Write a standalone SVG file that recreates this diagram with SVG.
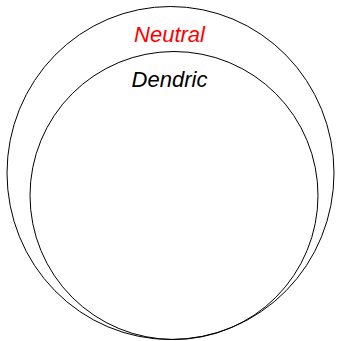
<svg xmlns="http://www.w3.org/2000/svg" width="340" height="341" viewBox="0 0 340 341">
<style>
.c{fill:none;stroke:#000;stroke-width:1}
.t{font-family:"Liberation Sans",Arial,sans-serif;font-style:italic;font-size:22px;text-anchor:middle}
</style>
<rect width="340" height="341" fill="#fff"/>
<g id="neutral">
<ellipse class="c" cx="170.5" cy="173" rx="163.5" ry="166.5"/>
<text class="t" x="169.5" y="41.5" fill="#ff0000">Neutral</text>
</g>
<g id="dendric">
<circle class="c" cx="174" cy="195.5" r="144"/>
<text class="t" x="169.5" y="87" fill="#000">Dendric</text>
</g>
<g id="connectors"></g>
</svg>
